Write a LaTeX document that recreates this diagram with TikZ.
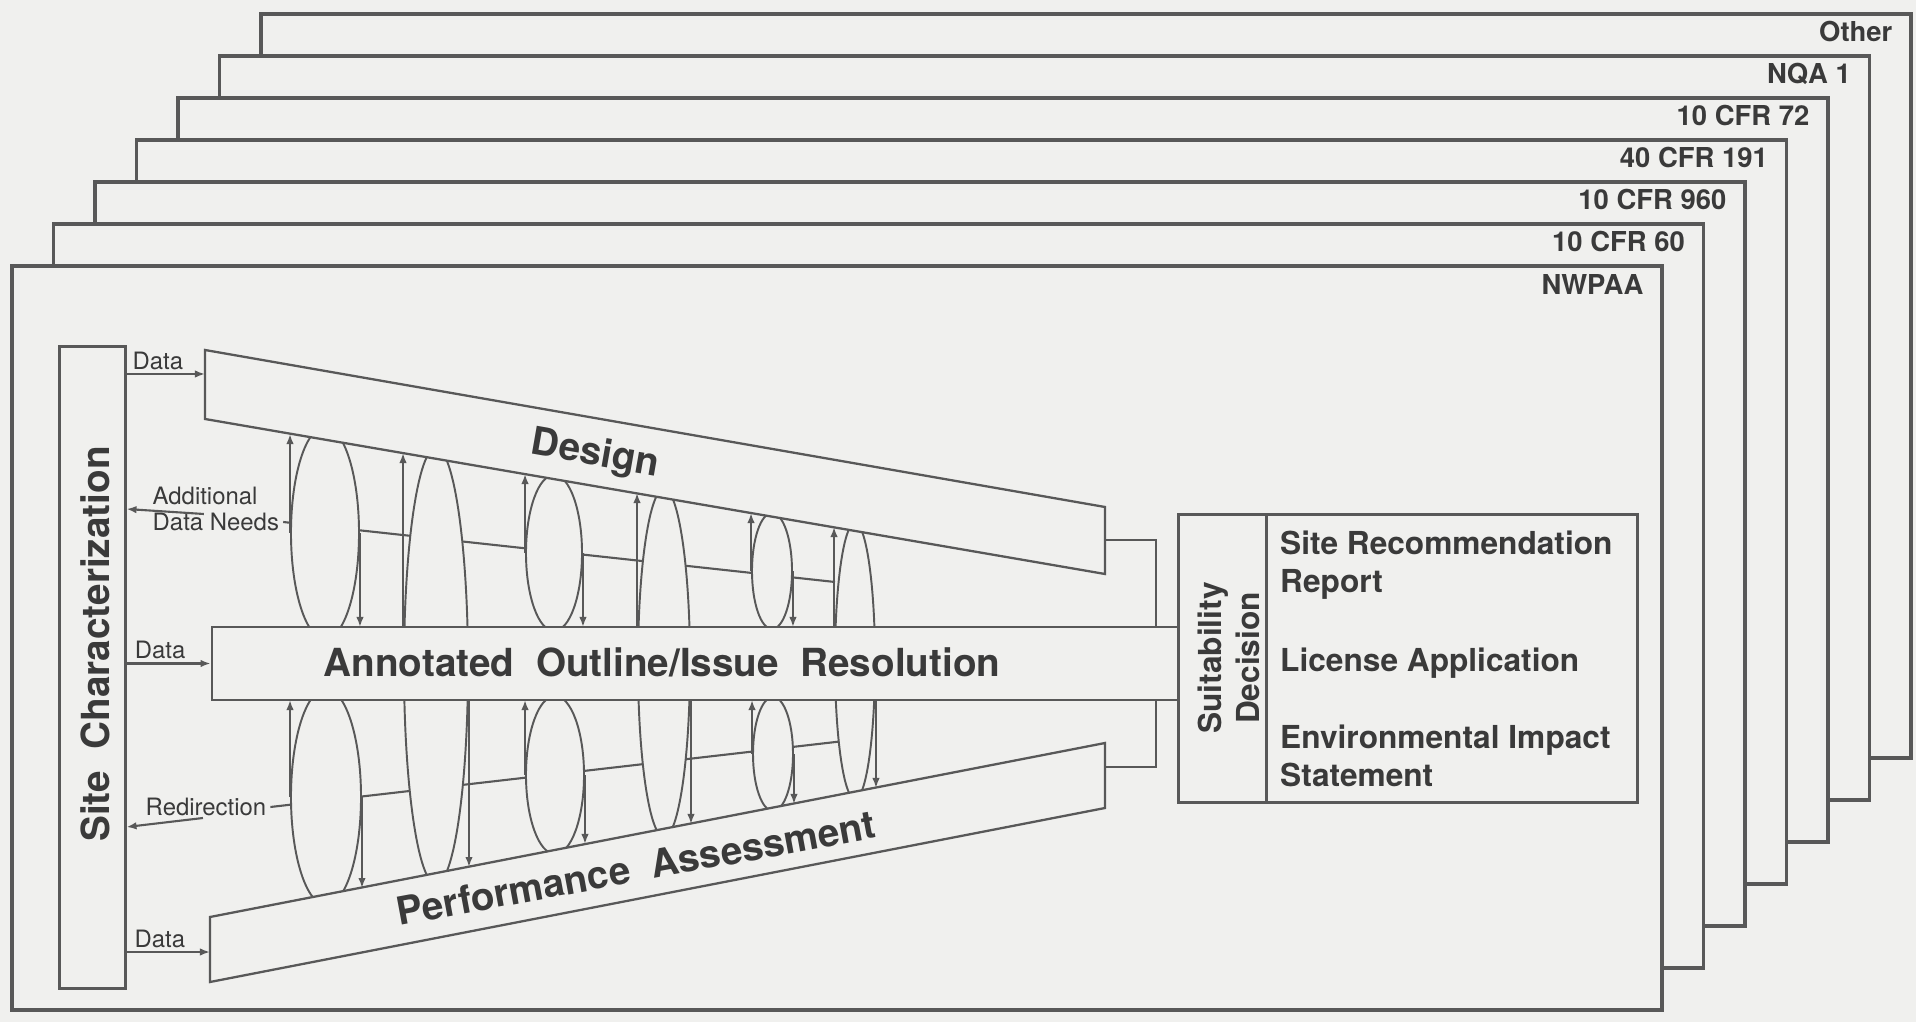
\documentclass[tikz,border=0pt]{standalone}
\usepackage{fontspec}
\setmainfont{TeX Gyre Heros}
\usetikzlibrary{arrows.meta,calc,shapes.geometric}
\definecolor{papel}{RGB}{240,240,238}
\definecolor{tinta}{RGB}{88,88,88}
\definecolor{letra}{RGB}{58,58,58}

\begin{document}
\begin{tikzpicture}[x=0.01cm, y=-0.01cm,
    >={Latex[length=1mm, width=0.75mm]},
    marco/.style={draw=tinta, line width=0.9pt, fill=papel},
    linea/.style={draw=tinta, line width=0.6pt},
    banda/.style={draw=tinta, line width=0.65pt, fill=papel, inner sep=0pt},
    caja/.style={draw=tinta, line width=0.85pt, inner sep=0pt},
    aro/.style={ellipse, draw=tinta, fill=papel, line width=0.55pt, inner sep=0pt},
    etiqueta/.style={text=letra, font=\fontsize{7.8}{9}\selectfont\bfseries, inner sep=0pt},
    grande/.style={text=letra, font=\fontsize{11}{13}\selectfont\bfseries, inner sep=0pt},
    medio/.style={text=letra, font=\fontsize{9}{10.8}\selectfont\bfseries, inner sep=1pt, align=left},
    pequeno/.style={text=letra, font=\fontsize{6.8}{7.4}\selectfont, inner sep=1pt, align=left}]

    % Fondo
    \fill[papel] (0,0) rectangle (1916,1022);
    \useasboundingbox (0,0) rectangle (1916,1022);

    % Marcos de la normativa
    \draw[marco] (261,14) rectangle (1911,758);
    \node[etiqueta, anchor=north east] (other) at (1893,20) {Other};
    \draw[marco] (219.5,56) rectangle (1869.5,800);
    \node[etiqueta, anchor=north east] (nqa) at (1851.5,62) {NQA 1};
    \draw[marco] (178,98) rectangle (1828,842);
    \node[etiqueta, anchor=north east] (cfr72) at (1810,104) {10 CFR 72};
    \draw[marco] (136.5,140) rectangle (1786.5,884);
    \node[etiqueta, anchor=north east] (cfr191) at (1768.5,146) {40 CFR 191};
    \draw[marco] (95,182) rectangle (1745,926);
    \node[etiqueta, anchor=north east] (cfr960) at (1727,188) {10 CFR 960};
    \draw[marco] (53.5,224) rectangle (1703.5,968);
    \node[etiqueta, anchor=north east] (cfr60) at (1685.5,230) {10 CFR 60};
    \draw[marco] (12,266) rectangle (1662,1010);
    \node[etiqueta, anchor=north east] (nwpaa) at (1644,274) {NWPAA};

    % Caracterizacion del sitio
    \node[caja, minimum width=0.65cm, minimum height=6.41cm] (site) at (92.5,667.5) {};
    \node[grande, rotate=90] (sitetxt) at (95,644) {Site~~Characterization};

    % Etiquetas de retorno
    \node[pequeno, anchor=west] (adn) at (148.5,509) {Additional\\Data Needs};
    \node[pequeno, anchor=west] (red) at (141.5,807) {Redirection};
    \coordinate (eje-sup) at (835,582);
    \coordinate (eje-inf) at (839,741.6);
    \draw[linea] ($(adn.east)+(0,13)$) -- (eje-sup);
    \draw[linea] (red.east) -- (eje-inf);

    % Ciclos superiores e inferiores
    \node[aro, minimum width=0.68cm, minimum height=2.12cm] (e1u) at (325,533) {};
    \node[aro, minimum width=0.56cm, minimum height=1.56cm] (e3u) at (554,553) {};
    \node[aro, minimum width=0.40cm, minimum height=1.16cm] (e5u) at (772,571) {};
    \node[aro, minimum width=0.70cm, minimum height=2.16cm] (e1l) at (326,797) {};
    \node[aro, minimum width=0.58cm, minimum height=1.58cm] (e3l) at (555,775) {};
    \node[aro, minimum width=0.40cm, minimum height=1.14cm] (e5l) at (773,754) {};
    \node[aro, minimum width=0.64cm, minimum height=4.36cm] (e2) at (436,666) {};
    \node[aro, minimum width=0.52cm, minimum height=3.48cm] (e4) at (664,663) {};
    \node[aro, minimum width=0.40cm, minimum height=2.76cm] (e6) at (855,661) {};

    % Flechas de los ciclos
    \draw[linea, ->] (e1u.west) -- ++(0,-99);
    \draw[linea, ->] (e1u.east) -- ++(0,94);
    \draw[linea, ->] (e3u.west) -- ++(0,-79);
    \draw[linea, ->] (e3u.east) -- ++(0,74);
    \draw[linea, ->] (e5u.west) -- ++(0,-58);
    \draw[linea, ->] (e5u.east) -- ++(0,56);
    \draw[linea, ->] (e1l.west) -- ++(0,-97);
    \draw[linea, ->] (e1l.east) -- ++(0,91);
    \draw[linea, ->] (e3l.west) -- ++(0,-75);
    \draw[linea, ->] (e3l.east) -- ++(0,69);
    \draw[linea, ->] (e5l.west) -- ++(0,-54);
    \draw[linea, ->] (e5l.east) -- ++(0,50);
    \draw[linea, ->] (e2.west |- 0,627) -- ++(0,-174);
    \draw[linea, ->] (e2.east |- 0,700) -- ++(0,167);
    \draw[linea, ->] (e4.west |- 0,627) -- ++(0,-134);
    \draw[linea, ->] (e4.east |- 0,700) -- ++(0,124);
    \draw[linea, ->] (e6.west |- 0,627) -- ++(0,-100);
    \draw[linea, ->] (e6.east |- 0,700) -- ++(0,88);

    % Bandas
    \draw[banda] (205,350) -- (1105,507) -- (1105,574) -- (205,419) -- cycle;
    \node[banda, minimum width=9.67cm, minimum height=0.73cm] (aoir) at (695.5,663.5) {};
    \draw[banda] (210,917) -- (1105,743) -- (1105,808) -- (210,982) -- cycle;
    \coordinate (dis-in) at (205,374);
    \coordinate (dis-out) at (1105,540);
    \coordinate (pa-in) at (210,952);
    \coordinate (pa-out) at (1105,767);
    \node[grande, rotate=-9.9] (distxt) at (595,455) {Design};
    \node[grande] (aoirtxt) at (662,662) {Annotated~~Outline/Issue~~Resolution};
    \node[grande, rotate=10.5] (patxt) at (636,868) {Performance~~Assessment};

    % Flujo de datos
    \draw[linea, ->] (site.east |- dis-in) -- (dis-in) node[pequeno, pos=0.4, above] {Data};
    \draw[linea, ->] (site.east |- aoir.west) -- (aoir.west) node[pequeno, pos=0.4, above] {Data};
    \draw[linea, ->] (site.east |- pa-in) -- (pa-in) node[pequeno, pos=0.4, above] {Data};
    \draw[linea, ->] ($(adn.center)+(-12,5)$) -- (site.east |- adn.center);
    \draw[linea, ->] ($(red.center)+(-3,11)$) -- ($(site.east |- red.center)+(0,20)$);

    % Decision de idoneidad
    \node[caja, minimum width=4.58cm, minimum height=2.87cm] (suit) at (1408,658.5) {};
    \draw[caja] ([xshift=0.89cm]suit.north west) -- ([xshift=0.89cm]suit.south west);
    \draw[linea] (dis-out) -| ([xshift=-0.24cm]aoir.north east);
    \draw[linea] (pa-out) -| ([xshift=-0.24cm]aoir.south east);
    \node[medio, rotate=90, align=center] (suittxt) at (1229,658) {Suitability\\Decision};
    \node[medio, anchor=west] (srr) at (1276,565) {Site Recommendation\\Report};
    \node[medio, anchor=west] (la) at (1276,663) {License Application};
    \node[medio, anchor=west] (eis) at (1276,756) {Environmental Impact\\Statement};
\end{tikzpicture}
\end{document}
